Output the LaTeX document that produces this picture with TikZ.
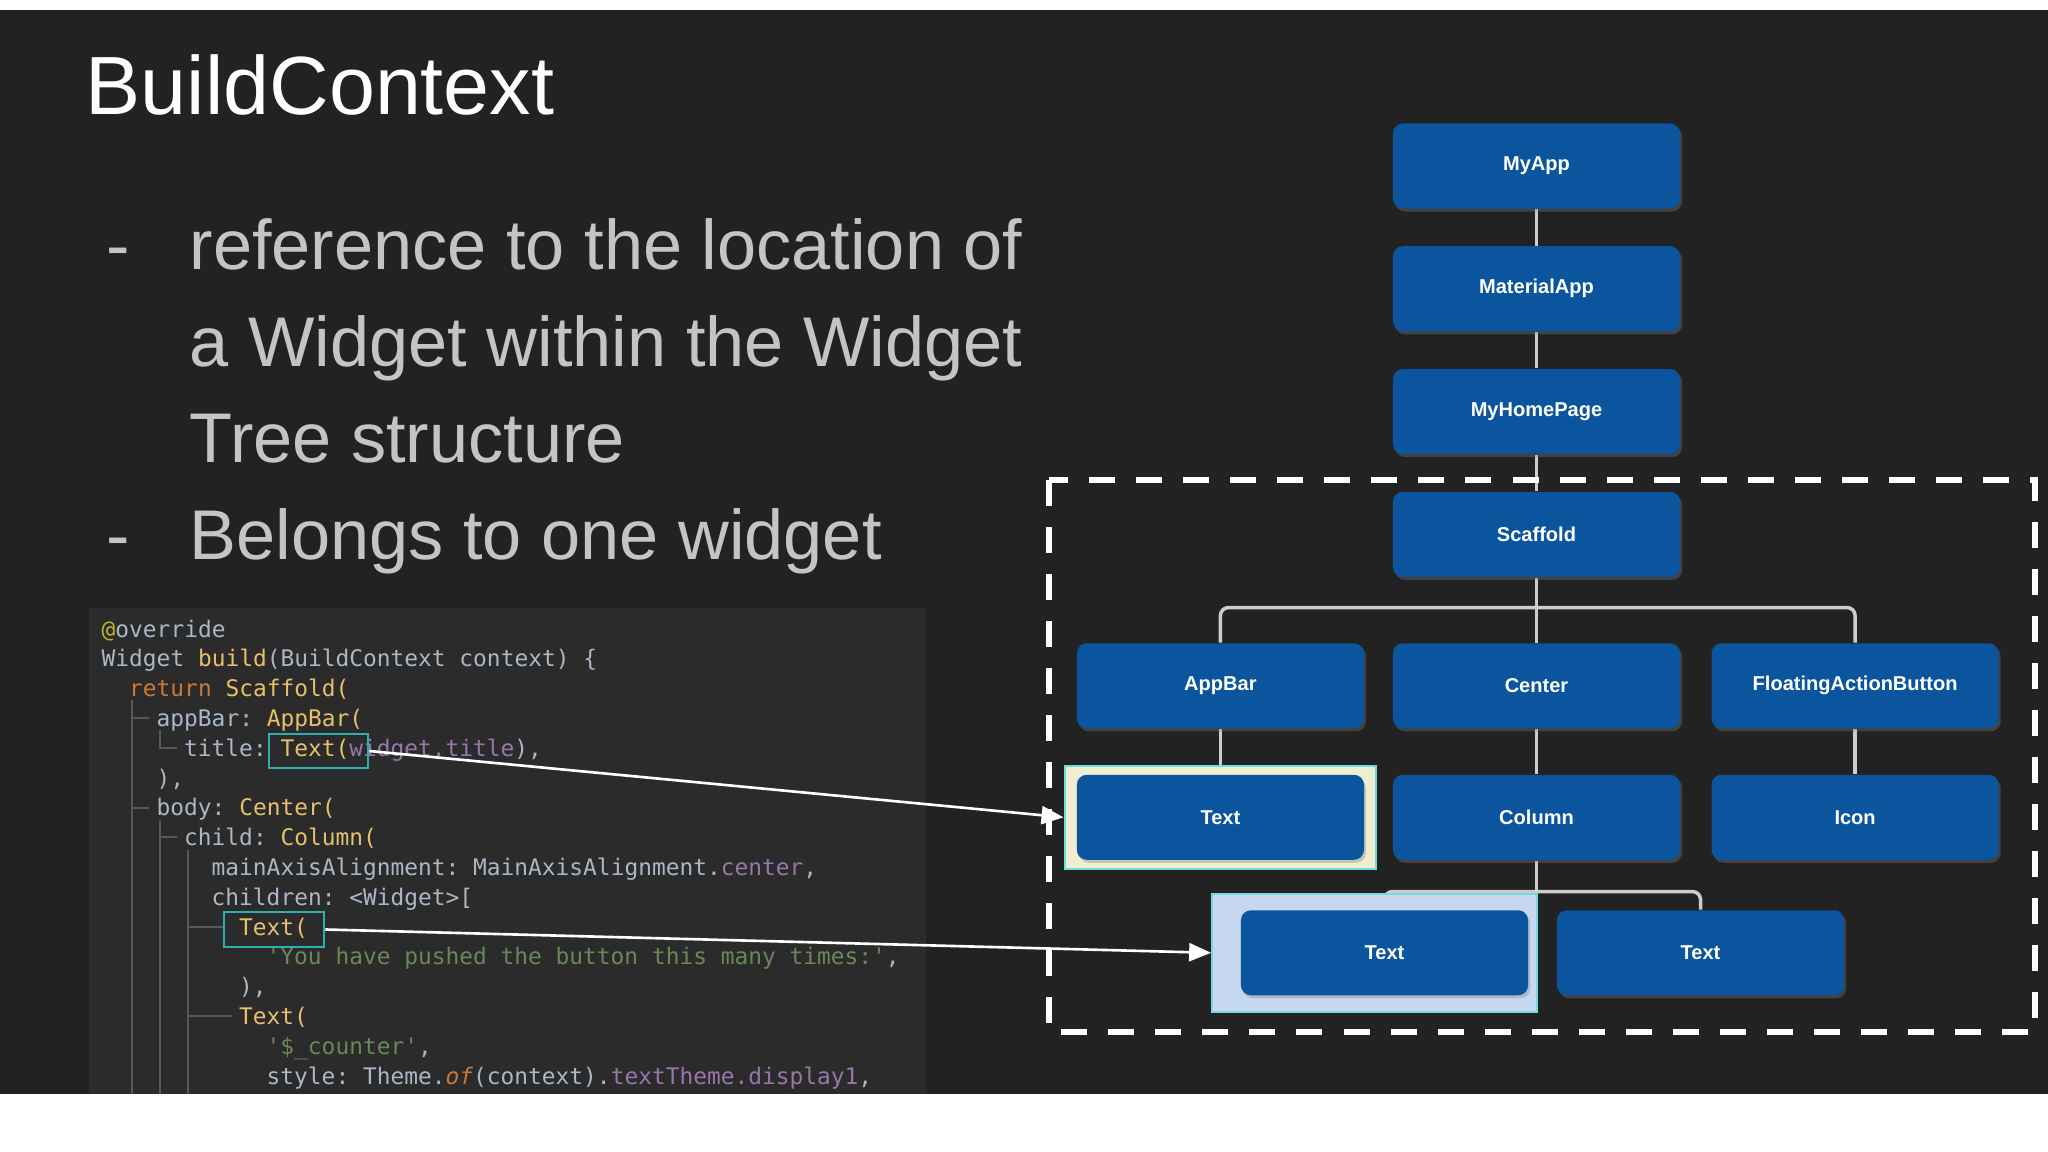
\documentclass[tikz,border=0pt]{standalone}
\usepackage{fontspec}
\setmainfont{Liberation Sans}
\setmonofont{DejaVu Sans Mono}
\usetikzlibrary{positioning,shadows,arrows.meta,backgrounds,fit}
\definecolor{slidebg}{RGB}{34,34,34}
\definecolor{editorbg}{RGB}{43,43,43}
\definecolor{widgetblue}{RGB}{11,84,158}
\definecolor{linkgray}{RGB}{205,205,205}
\definecolor{bullettext}{RGB}{196,196,196}
\definecolor{codefg}{RGB}{169,183,198}
\definecolor{codekw}{RGB}{204,120,50}
\definecolor{codefn}{RGB}{232,191,106}
\definecolor{codestr}{RGB}{106,135,89}
\definecolor{codefld}{RGB}{152,118,170}
\definecolor{codeann}{RGB}{187,181,41}
\definecolor{guidegray}{RGB}{88,88,88}
\definecolor{markcyan}{RGB}{45,175,175}
\definecolor{hlcream}{RGB}{240,238,208}
\definecolor{hlsky}{RGB}{198,216,240}
\definecolor{hledge}{RGB}{110,220,220}

\newcommand{\ckw}[1]{\textcolor{codekw}{#1}}
\newcommand{\cfn}[1]{\textcolor{codefn}{#1}}
\newcommand{\cstr}[1]{\textcolor{codestr}{#1}}
\newcommand{\cfld}[1]{\textcolor{codefld}{#1}}
\newcommand{\cann}[1]{\textcolor{codeann}{#1}}

\begin{document}
\begin{tikzpicture}[
    x=0.01cm, y=-0.01cm,
    node distance=0.363cm,
    widget/.style={rectangle, rounded corners=0.1cm, fill=widgetblue, text=white, font=\bfseries\fontsize{5.7}{6}\selectfont, minimum width=2.87cm, minimum height=0.85cm, drop shadow={opacity=0.35, shadow xshift=0.02cm, shadow yshift=-0.03cm}},
    treelink/.style={draw=linkgray, line width=1pt},
    codeline/.style={anchor=base west, inner sep=0pt, font=\ttfamily\fontsize{6.5}{7}\selectfont, text=codefg},
    codeguide/.style={draw=guidegray, line width=0.5pt},
    codebox/.style={rectangle, draw=markcyan, line width=0.7pt, inner sep=0pt},
    bulletline/.style={anchor=base west, inner sep=0pt, font=\fontsize{20}{24}\selectfont, text=bullettext},
    hlyellow/.style={rectangle, draw=hledge, fill=hlcream, line width=0.6pt},
    hlblue/.style={rectangle, draw=hledge, fill=hlsky, line width=0.6pt},
    subtreeframe/.style={draw=white, line width=1.6pt, dash pattern=on 0.26cm off 0.21cm},
    pointer/.style={-{Triangle[length=0.22cm, width=0.18cm]}, draw=white, line width=0.75pt}
]
    \useasboundingbox (0,0) rectangle (2048,1152);

    % Title and bullets
    \node[anchor=base west, inner sep=0pt, text=white, font=\fontsize{23.5}{28}\selectfont] (title) at (85,115) {BuildContext};
    \node[bulletline] (dashone) at (106,270) {-};
    \node[bulletline] (lineone) at (189,270) {reference to the location of};
    \node[bulletline] (linetwo) at (189,367) {a Widget within the Widget};
    \node[bulletline] (linethree) at (189,463) {Tree structure};
    \node[bulletline] (dashtwo) at (106,560) {-};
    \node[bulletline] (linefour) at (189,560) {Belongs to one widget};

    % Code editor
    \node[codeline] (c0) at (101,637) {\cann{@}override};
    \node[codeline] (c1) at (101,666.8) {Widget \cfn{build}(BuildContext context) \{};
    \node[codeline] (c2) at (128.5,696.6) {\ckw{return} \cfn{Scaffold(}};
    \node[codeline] (c3) at (156,726.4) {appBar: \cfn{AppBar(}};
    \node[codeline] (c4) at (183.5,756.2) {title: \cfn{Text(}\cfld{widget.title}),};
    \node[codeline] (c5) at (156,786) {),};
    \node[codeline] (c6) at (156,815.8) {body: \cfn{Center(}};
    \node[codeline] (c7) at (183.5,845.6) {child: \cfn{Column(}};
    \node[codeline] (c8) at (211,875.4) {mainAxisAlignment: MainAxisAlignment.\cfld{center},};
    \node[codeline] (c9) at (211,905.2) {children: <Widget>[};
    \node[codeline] (c10) at (238.5,935) {\cfn{Text(}};
    \node[codeline] (c11) at (266,964.8) {\cstr{'You have pushed the button this many times:'},};
    \node[codeline] (c12) at (238.5,994.6) {),};
    \node[codeline] (c13) at (238.5,1024.4) {\cfn{Text(}};
    \node[codeline] (c14) at (266,1054.2) {\cstr{'\$\_counter'},};
    \node[codeline] (c15) at (266,1084) {style: Theme.\ckw{\itshape of}(context).\cfld{textTheme.display1},};

    % Outline guides
    \draw[codeguide] (132,700) -- (132,1094);
    \draw[codeguide] (132,718) -- (149,718);
    \draw[codeguide] (132,808) -- (149,808);
    \draw[codeguide] (160,730) -- (160,748) -- (177,748);
    \draw[codeguide] (160,820) -- (160,1094);
    \draw[codeguide] (160,837) -- (177,837);
    \draw[codeguide] (188,850) -- (188,1094);
    \draw[codeguide] (188,927) -- (224,927);
    \draw[codeguide] (188,1016) -- (232,1016);

    \node[codebox, minimum width=0.99cm, minimum height=0.34cm] (codetitle) at (318.5,751) {};
    \node[codebox, minimum width=1.0cm, minimum height=0.35cm] (codelabel) at (274,929.5) {};

    % Widget tree
    \node[widget] (myapp) at (1536.5,166) {MyApp};
    \node[widget, below=of myapp] (materialapp) {MaterialApp};
    \node[widget, below=of materialapp] (myhomepage) {MyHomePage};
    \node[widget, below=of myhomepage] (scaffold) {Scaffold};
    \node[widget, below=0.65cm of scaffold] (center) {Center};
    \node[widget, left=0.275cm of center] (appbar) {AppBar};
    \node[widget, right=0.3cm of center] (fab) {FloatingActionButton};
    \node[widget, below=0.45cm of appbar] (titletext) {Text};
    \node[widget, below=0.45cm of center] (column) {Column};
    \node[widget, below=0.45cm of fab] (icon) {Icon};
    \node[widget, below left=0.49cm and -1.365cm of column] (labeltext) {Text};
    \node[widget, below right=0.49cm and -1.245cm of column] (countertext) {Text};

    \coordinate[below=0.3cm of scaffold] (scaffoldfork);
    \coordinate[below=0.31cm of column] (columnfork);

    \begin{scope}[on background layer]
        \fill[white] (0,0) rectangle (2048,1152);
        \fill[slidebg] (0,10) rectangle (2048,1094);
        \fill[editorbg] (89,608) rectangle (926,1094);

        \draw[treelink] (myapp) -- (materialapp);
        \draw[treelink] (materialapp) -- (myhomepage);
        \draw[treelink] (myhomepage) -- (scaffold);
        \draw[treelink] (scaffold) -- (center);
        \draw[treelink, rounded corners=0.08cm] (appbar.north) |- (scaffoldfork) -| (fab.north);
        \draw[treelink] (appbar) -- (titletext);
        \draw[treelink] (center) -- (column);
        \draw[treelink] (fab) -- (icon);
        \draw[treelink] (column) -- (columnfork);
        \draw[treelink, rounded corners=0.08cm] (labeltext.north) |- (columnfork) -| (countertext.north);

        % Highlighted widgets
        \node[hlyellow, fit=(titletext), inner xsep=0.115cm, inner ysep=0.085cm] (hltitle) {};
        \node[hlblue, fit={([xshift=-0.2cm]labeltext.west) (labeltext)}, inner xsep=0.08cm, inner ysep=0.16cm] (hllabel) {};
    \end{scope}

    % Subtree frame
    \draw[subtreeframe] (1049,480) rectangle (2035,1032);

    % Links from code to tree
    \draw[pointer] (codetitle.east) -- (hltitle.west);
    \draw[pointer] (codelabel.east) -- (hllabel.west);
\end{tikzpicture}
\end{document}
